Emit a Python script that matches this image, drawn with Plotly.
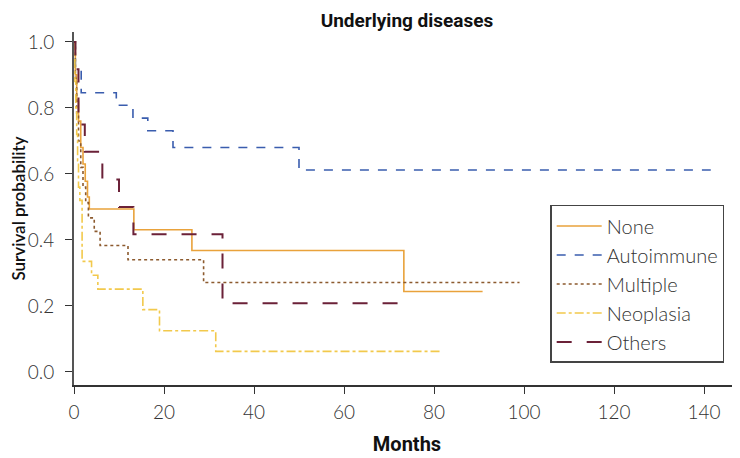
import plotly.graph_objects as go

# Kaplan-Meier step curves (months, survival)
none_t = [0, 0.3, 0.6, 1.0, 1.5, 2.0, 2.5, 3.0, 3.4, 13.3, 26.2, 73.3, 90.8]
none_s = [1.0, 0.90, 0.82, 0.76, 0.68, 0.63, 0.578, 0.53, 0.494, 0.431, 0.368, 0.244, 0.244]

auto_t = [0, 0.3, 1.6, 9.4, 13.1, 16.4, 22.0, 50.0, 141.5]
auto_s = [1.0, 0.923, 0.846, 0.808, 0.769, 0.731, 0.68, 0.612, 0.612]

mult_t = [0, 0.3, 0.6, 1.0, 1.5, 2.0, 2.6, 3.2, 4.5, 5.8, 12.0, 28.8, 99.0]
mult_s = [1.0, 0.89, 0.78, 0.70, 0.62, 0.56, 0.513, 0.467, 0.426, 0.383, 0.34, 0.271, 0.271]

neo_t = [0, 0.2, 0.4, 0.6, 0.8, 1.0, 1.3, 1.8, 3.9, 5.3, 15.3, 19.0, 31.5, 81.3]
neo_s = [1.0, 0.88, 0.80, 0.72, 0.64, 0.56, 0.52, 0.335, 0.293, 0.251, 0.189, 0.125, 0.0625, 0.0625]

oth_t = [0, 0.3, 1.0, 2.4, 6.3, 10.0, 13.2, 33.0, 74.5]
oth_s = [1.0, 0.917, 0.75, 0.667, 0.583, 0.5, 0.417, 0.208, 0.208]

series = [
    ('None', none_t, none_s, '#E9A23B', 'solid', 1.6),
    ('Autoimmune', auto_t, auto_s, '#3A5DAE', 'dash', 1.6),
    ('Multiple', mult_t, mult_s, '#8C5A2E', 'dot', 1.6),
    ('Neoplasia', neo_t, neo_s, '#F2C94C', 'dashdot', 1.6),
    ('Others', oth_t, oth_s, '#6B2138', 'longdash', 2.0),
]

fig = go.Figure()
for name, t, s, color, dash, w in series:
    fig.add_trace(go.Scatter(
        x=t, y=s, mode='lines', name=name, line_shape='hv',
        line=dict(color=color, dash=dash, width=w),
    ))

tick_font = dict(family='Lato', size=19, color='#333333', weight=300)
bold_font = dict(family='Roboto', size=20, color='#111111', weight=700)

# the page body adds an 8px offset, so margins are shifted by 8px
fig.update_layout(
    width=740, height=458,
    margin=dict(l=66, r=8, t=24, b=81),
    plot_bgcolor='white', paper_bgcolor='white',
    title=dict(text='Underlying diseases', xref='paper', x=0.5, xanchor='center',
               yref='container', y=1 - 6 / 458, yanchor='top', pad=dict(t=0),
               font=dict(family='Roboto', size=19, color='#111111', weight=700)),
    legend=dict(x=0.715, y=0.51, xanchor='left', yanchor='top',
                bordercolor='#444444', borderwidth=1.5, bgcolor='white',
                font=dict(family='Lato', size=20, color='#333333', weight=300),
                tracegroupgap=0, itemwidth=45),
    showlegend=True,
)
fig.update_xaxes(
    range=[0, 148], tickvals=[0, 20, 40, 60, 80, 100, 120, 140], automargin=False,
    showgrid=False, zeroline=False, showline=True, linecolor='#333333', linewidth=1.5,
    ticks='outside', ticklen=7, tickcolor='#333333', tickfont=tick_font, ticklabelstandoff=2,
    title=dict(text='Months', font=bold_font, standoff=15),
)
fig.update_yaxes(
    range=[-0.0394, 1.03], tickvals=[0, 0.2, 0.4, 0.6, 0.8, 1.0], automargin=False,
    ticktext=['0.0', '0.2', '0.4', '0.6', '0.8', '1.0'],
    showgrid=False, zeroline=False, showline=True, linecolor='#555555', linewidth=2,
    ticks='outside', ticklen=7, tickcolor='#333333', tickfont=tick_font, ticklabelstandoff=7,
    title=dict(text='Survival probability', font=dict(family='Lato', size=17, color='#111111', weight=600), standoff=13),
)

fig.write_html('out.html')
